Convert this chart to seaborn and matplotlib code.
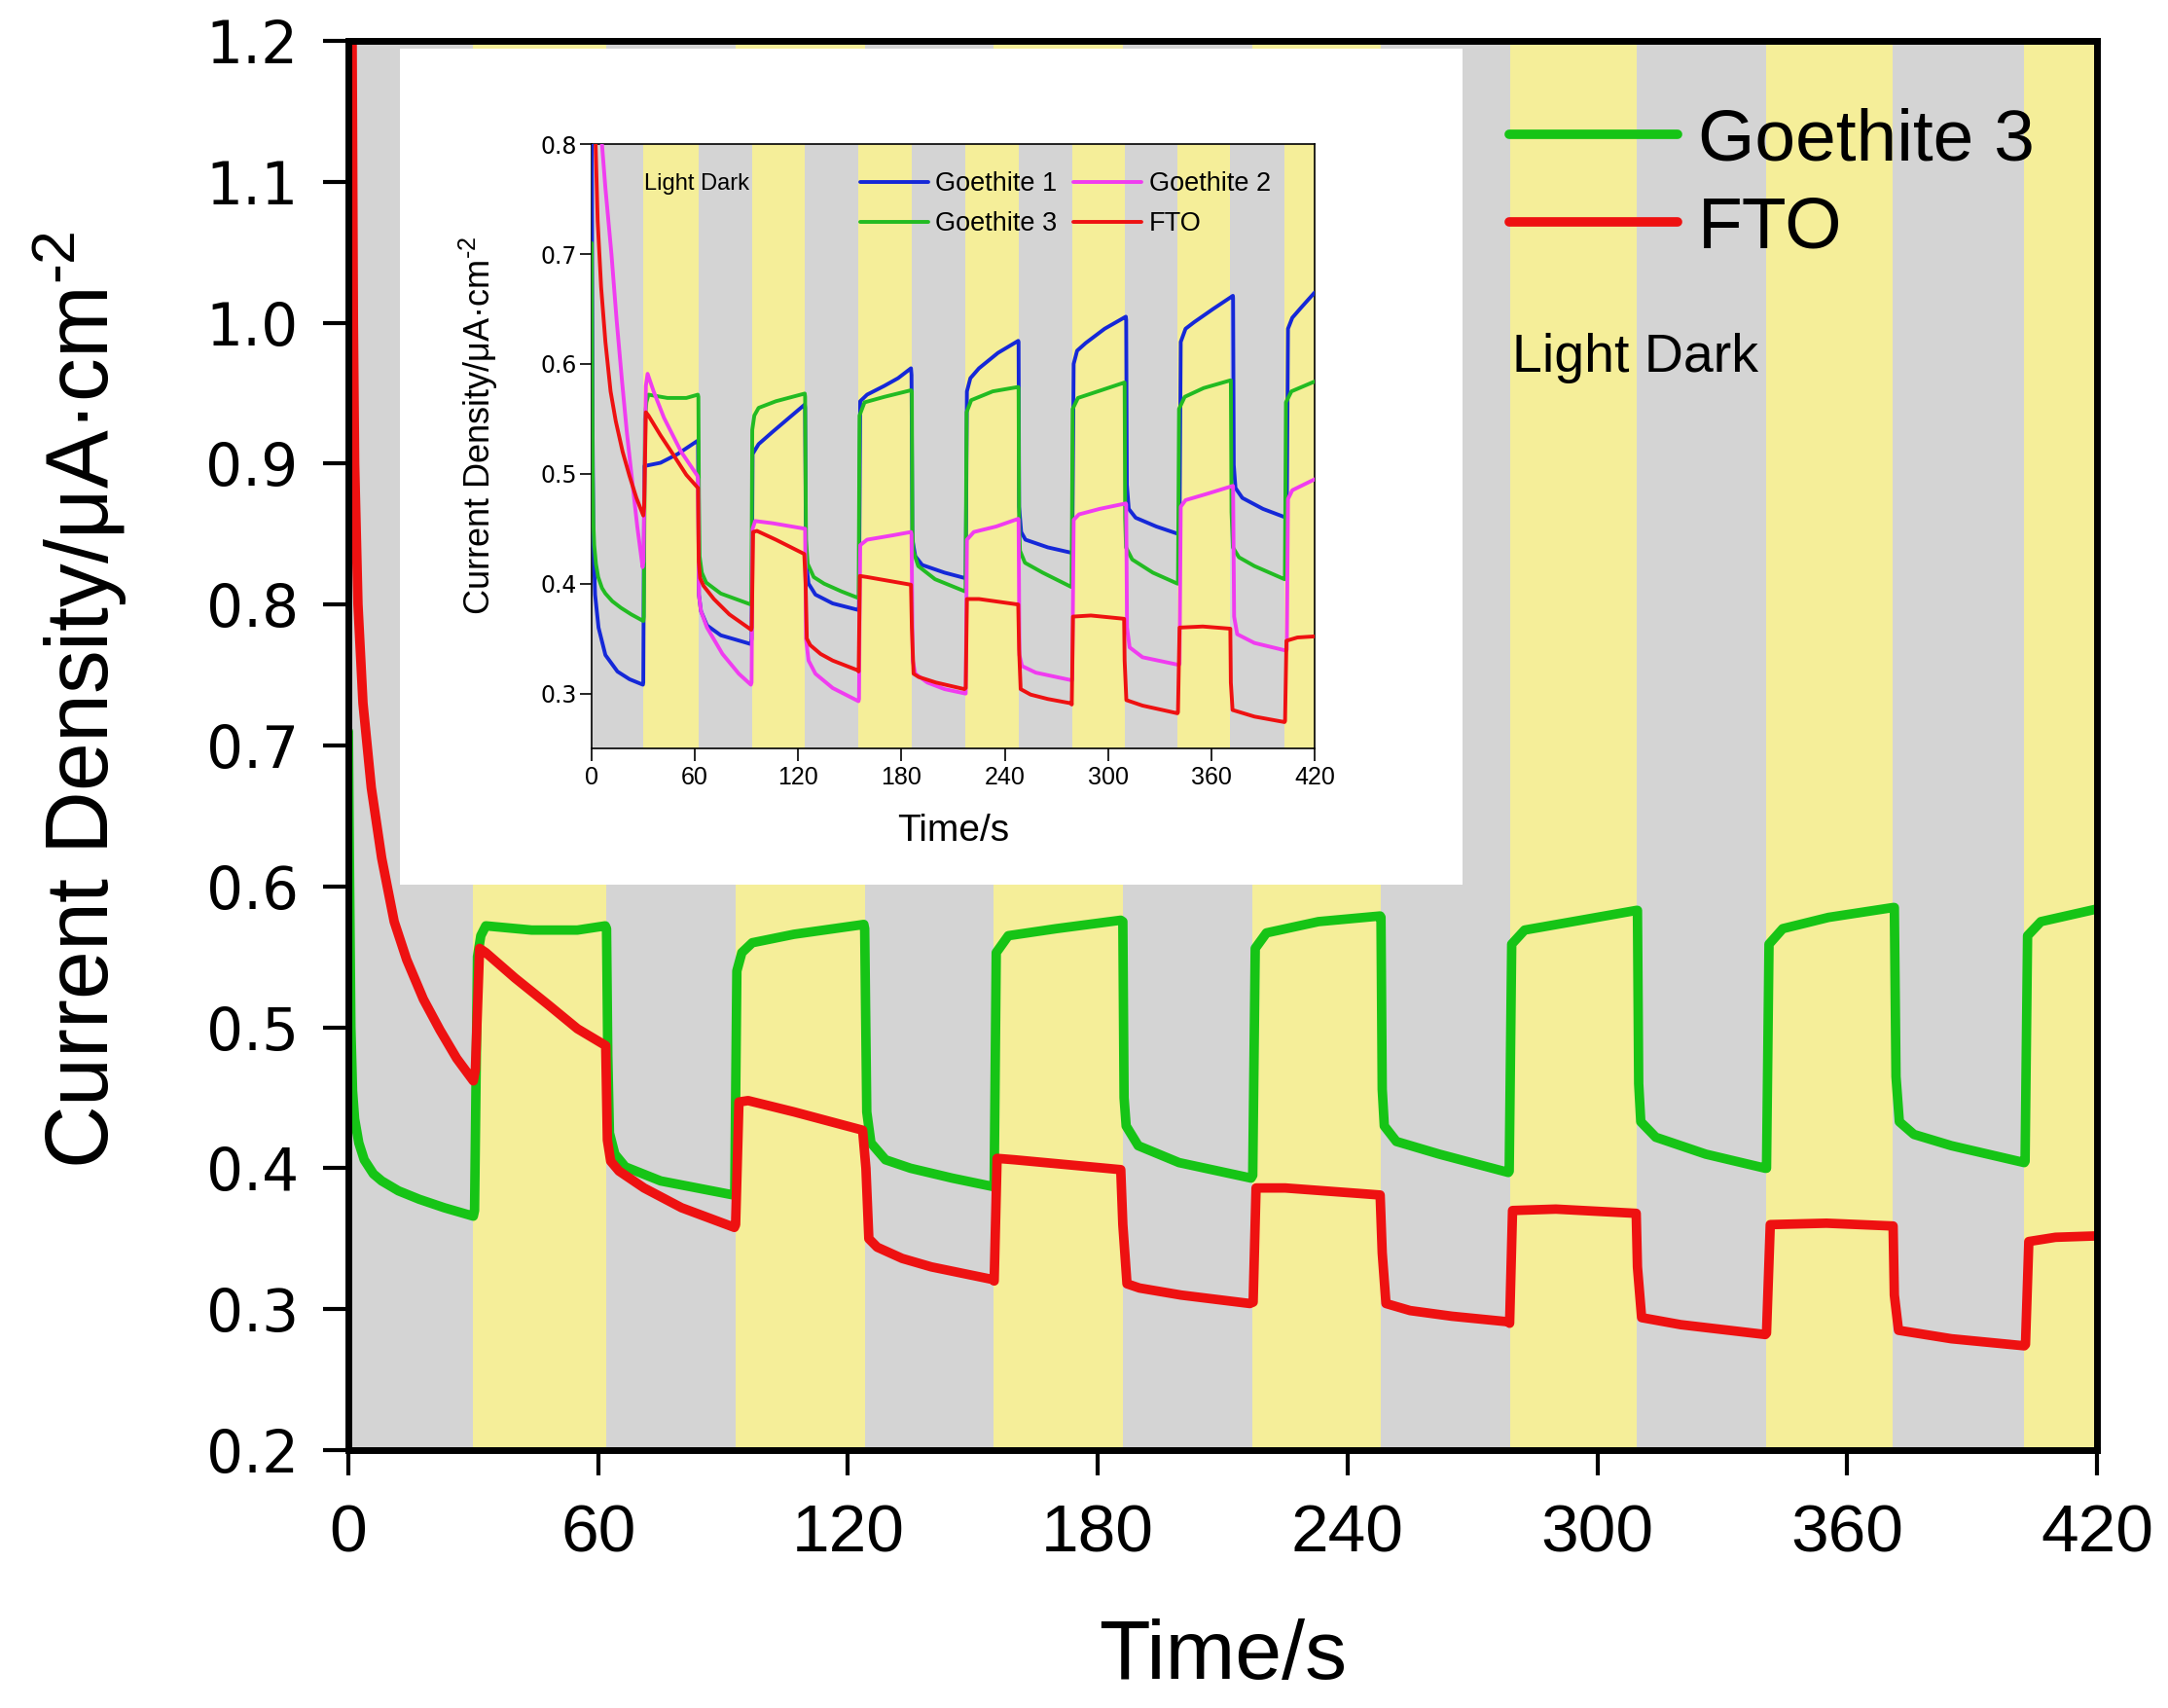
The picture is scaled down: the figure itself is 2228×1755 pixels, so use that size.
import matplotlib.pyplot as plt
import seaborn as sns
from matplotlib.patches import Rectangle

# ── Style ───────────────────────────────────────────────────
sns.set_theme(style="ticks")
plt.rcParams["font.family"] = ["Liberation Sans", "DejaVu Sans"]
plt.rcParams["mathtext.fontset"] = "custom"
plt.rcParams["mathtext.rm"] = "Liberation Sans"
plt.rcParams["mathtext.it"] = "Liberation Sans:italic"
plt.rcParams["mathtext.bf"] = "Liberation Sans:bold"
plt.rcParams["text.color"] = "black"
plt.rcParams["axes.labelcolor"] = "black"

GREY = "#D4D4D4"
YELLOW = "#F5EE99"
GREEN = "#16C416"
RED = "#EE1111"
BLUE = "#1528D8"
MAGENTA = "#F03CF0"
GREEN_IN = "#22BB22"

# ── Data ────────────────────────────────────────────────────
band_edges = [0, 30, 62, 93, 124, 155, 186, 217, 248, 279, 309.5, 340.5, 371, 402.5, 420]
band_state = ["dark", "light"] * 7

x_ticks = [0, 60, 120, 180, 240, 300, 360, 420]
y_ticks = [0.2, 0.3, 0.4, 0.5, 0.6, 0.7, 0.8, 0.9, 1.0, 1.1, 1.2]
inset_y_ticks = [0.3, 0.4, 0.5, 0.6, 0.7, 0.8]

# Goethite 3
g3_t = [0, 0.3, 0.6, 1.0, 1.5, 2.5, 3.8, 6, 8, 12, 17, 23, 30,
        30.3, 31, 31.8, 33, 44, 55, 61.7,
        62, 62.3, 62.7, 64, 66.5, 75, 92.5,
        92.8, 93.3, 94.5, 97, 107, 123.8,
        124, 124.5, 125.5, 129, 135, 145, 154.8,
        155.1, 155.6, 158.5, 170, 185.5,
        186, 186.3, 186.8, 189.7, 199.5, 216.8,
        217.2, 217.8, 220.5, 233, 247.8,
        248.0, 248.3, 248.8, 251.7, 262, 278.6,
        278.8, 279.4, 282.5, 296, 309.4,
        309.6, 309.9, 310.4, 314, 326, 340.3,
        340.6, 341.2, 344.5, 355.5, 371.0,
        371.3, 371.7, 372.5, 376, 385, 402.5,
        402.7, 403.3, 406.5, 420]
g3_v = [0.71, 0.60, 0.50, 0.455, 0.435, 0.418, 0.406, 0.396, 0.391, 0.384, 0.378, 0.372, 0.366,
        0.37, 0.55, 0.565, 0.572, 0.569, 0.569, 0.572,
        0.57, 0.48, 0.425, 0.41, 0.401, 0.391, 0.381,
        0.385, 0.54, 0.553, 0.560, 0.566, 0.573,
        0.57, 0.44, 0.418, 0.406, 0.40, 0.393, 0.387,
        0.39, 0.553, 0.565, 0.570, 0.576,
        0.575, 0.45, 0.43, 0.416, 0.404, 0.393,
        0.395, 0.556, 0.567, 0.575, 0.579,
        0.578, 0.456, 0.43, 0.419, 0.41, 0.397,
        0.398, 0.559, 0.569, 0.576, 0.583,
        0.583, 0.46, 0.433, 0.422, 0.41, 0.40,
        0.40, 0.559, 0.57, 0.578, 0.585,
        0.585, 0.465, 0.433, 0.424, 0.416, 0.404,
        0.405, 0.565, 0.575, 0.584]

# FTO
fto_t = [0.3, 0.9, 1.2, 1.5, 2.3, 3.5, 5.5, 8, 11, 14, 18, 22, 26, 30,
         30.5, 31.5, 33, 40, 48, 55, 61.8,
         62.2, 63, 65, 71, 80, 92.7,
         93.0, 93.8, 96, 107, 123.5,
         124.3, 125, 127, 133, 140, 154.8,
         155.1, 155.8, 160, 185.5,
         186, 187, 190, 200, 216.5,
         217.3, 218, 225, 247.8,
         248.3, 249.2, 255, 265, 278.7,
         278.9, 279.6, 290, 309.3,
         309.6, 310.6, 320, 340.3,
         340.6, 341.5, 355, 371,
         371.3, 372.3, 385, 402.5,
         402.8, 403.6, 410, 420]
fto_v = [1.35, 1.2, 1.0, 0.9, 0.8, 0.73, 0.67, 0.62, 0.575, 0.548, 0.52, 0.498, 0.478, 0.462,
         0.47, 0.556, 0.553, 0.535, 0.516, 0.499, 0.487,
         0.42, 0.405, 0.398, 0.386, 0.372, 0.358,
         0.36, 0.447, 0.448, 0.44, 0.427,
         0.40, 0.35, 0.344, 0.336, 0.330, 0.321,
         0.32, 0.407, 0.406, 0.399,
         0.36, 0.318, 0.315, 0.31, 0.304,
         0.305, 0.386, 0.386, 0.381,
         0.34, 0.304, 0.299, 0.295, 0.291,
         0.29, 0.370, 0.371, 0.368,
         0.33, 0.294, 0.289, 0.282,
         0.283, 0.360, 0.361, 0.359,
         0.31, 0.285, 0.279, 0.274,
         0.275, 0.348, 0.351, 0.352]

# Goethite 1 (inset only)
g1_t = [0, 0.5, 1, 2, 4, 8, 15, 22, 29.8,
        30, 30.6, 40, 50, 61.5,
        61.8, 62.3, 63.5, 67, 75, 92.5,
        92.9, 93.5, 97, 105, 114, 123.8,
        124, 124.5, 126, 130, 140, 155,
        155.3, 156, 160, 170, 178, 185.5,
        185.8, 186.3, 188, 192, 205, 217,
        217.3, 218, 220, 225, 236, 247.8,
        248.0, 248.3, 249.5, 252, 265, 279,
        279.2, 280, 282, 287, 298, 310.3,
        310.5, 310.9, 312, 316, 328, 341.2,
        341.5, 342.2, 345, 350, 361, 372.5,
        372.6, 373, 374, 378, 390, 403.5,
        403.8, 404.5, 407, 412, 420]
g1_v = [0.85, 0.55, 0.44, 0.39, 0.36, 0.335, 0.32, 0.313, 0.308,
        0.31, 0.507, 0.51, 0.518, 0.53,
        0.53, 0.39, 0.375, 0.362, 0.353, 0.345,
        0.35, 0.518, 0.527, 0.538, 0.55, 0.563,
        0.56, 0.42, 0.40, 0.39, 0.382, 0.376,
        0.38, 0.566, 0.572, 0.58, 0.587, 0.596,
        0.59, 0.44, 0.425, 0.417, 0.41, 0.405,
        0.405, 0.575, 0.587, 0.596, 0.61, 0.621,
        0.62, 0.47, 0.447, 0.44, 0.433, 0.428,
        0.43, 0.60, 0.612, 0.619, 0.632, 0.643,
        0.64, 0.49, 0.468, 0.46, 0.452, 0.445,
        0.447, 0.62, 0.632, 0.638, 0.65, 0.662,
        0.66, 0.508, 0.487, 0.478, 0.468, 0.46,
        0.462, 0.632, 0.642, 0.651, 0.665]

# Goethite 2 (inset only)
g2_t = [0, 4, 6, 8, 11.5, 14.5, 17.6, 20.5, 23.8, 26.5, 29.6,
        30.1, 31.5, 32.5, 36, 42, 52, 61.5,
        61.8, 62.3, 63.5, 67, 76, 85.5, 92.5,
        92.9, 93.5, 95, 105, 123.8,
        124, 124.5, 126, 130, 140, 155,
        155.3, 156, 160, 175, 185.5,
        185.8, 186.5, 188, 195, 205, 217,
        217.3, 218, 222, 235, 247.8,
        248.0, 248.5, 250, 258, 279,
        279.2, 280, 283, 295, 310.3,
        310.5, 311, 312.5, 320, 341.2,
        341.5, 342.2, 345, 358, 372.5,
        372.6, 373.2, 375, 385, 403.5,
        403.8, 404.5, 407, 420]
g2_v = [0.95, 0.87, 0.80, 0.76, 0.70, 0.64, 0.585, 0.537, 0.49, 0.452, 0.415,
        0.42, 0.58, 0.591, 0.575, 0.551, 0.52, 0.498,
        0.495, 0.39, 0.375, 0.36, 0.336, 0.318, 0.308,
        0.31, 0.45, 0.457, 0.455, 0.45,
        0.45, 0.35, 0.33, 0.318, 0.305, 0.293,
        0.295, 0.435, 0.44, 0.444, 0.447,
        0.445, 0.33, 0.318, 0.31, 0.304, 0.300,
        0.30, 0.44, 0.447, 0.452, 0.459,
        0.458, 0.335, 0.325, 0.319, 0.312,
        0.313, 0.458, 0.463, 0.468, 0.473,
        0.472, 0.36, 0.342, 0.333, 0.326,
        0.327, 0.47, 0.476, 0.482, 0.489,
        0.488, 0.37, 0.354, 0.346, 0.339,
        0.34, 0.477, 0.485, 0.495]

YLABEL = "Current Density/μA·cm$^{\\text{-2}}$"


def shade(a):
    for i, state in enumerate(band_state):
        a.axvspan(band_edges[i], band_edges[i + 1],
                  color=GREY if state == "dark" else YELLOW, lw=0, zorder=0)


def curve(a, t, v, color, lw, label):
    sns.lineplot(x=t, y=v, ax=a, color=color, lw=lw, estimator=None,
                 sort=False, label=label, zorder=4, solid_joinstyle="round")


# ── Main axes ───────────────────────────────────────────────
fig = plt.figure(figsize=(22.28, 17.55), dpi=100)
ax = fig.add_axes([0.1607, 0.151, 0.8066, 0.8251])
ax.set_facecolor("white")
shade(ax)
ax.add_patch(Rectangle((0.0295, 0.401), 0.6075, 0.5935, transform=ax.transAxes,
                       facecolor="white", edgecolor="none", zorder=3))

curve(ax, g3_t, g3_v, GREEN, 7, "Goethite 3")
curve(ax, fto_t, fto_v, RED, 7, "FTO")

ax.set_xlim(0, 420)
ax.set_ylim(0.2, 1.2)
ax.set_xticks(x_ticks)
ax.set_yticks(y_ticks)
ax.set_yticklabels([f"{v:.1f}" for v in y_ticks])
ax.tick_params(direction="out", length=19, width=3, pad=18, colors="black")
ax.tick_params(axis="x", labelsize=50, pad=20)
ax.tick_params(axis="y", labelsize=43)
for lab in ax.get_yticklabels():
    lab.set_fontfamily("DejaVu Sans")
for s in ax.spines.values():
    s.set_linewidth(5)
    s.set_color("black")
    s.set_zorder(6)

ax.set_xlabel("Time/s", fontsize=62)
ax.set_ylabel(YLABEL, fontsize=64.5)
ax.xaxis.set_label_coords(0.5, -0.1195)
ax.yaxis.set_label_coords(-0.125, 0.532)

ax.legend(loc="upper left", bbox_to_anchor=(0.664, 0.953), frameon=False,
          fontsize=54, handlelength=2.3, handletextpad=0.28, labelspacing=0.28,
          borderpad=0, borderaxespad=0, labelcolor="black")
ax.text(279.5, 0.975, "Light Dark", fontsize=40, ha="left", va="center", zorder=5)

# ── Inset ───────────────────────────────────────────────────
ax2 = fig.add_axes([0.2729, 0.5618, 0.3335, 0.3538])
ax2.set_zorder(10)
shade(ax2)
curve(ax2, g1_t, g1_v, BLUE, 2.8, "Goethite 1")
curve(ax2, g3_t, g3_v, GREEN_IN, 2.8, "Goethite 3")
curve(ax2, g2_t, g2_v, MAGENTA, 2.8, "Goethite 2")
curve(ax2, fto_t, fto_v, RED, 2.8, "FTO")

ax2.set_xlim(0, 420)
ax2.set_ylim(0.25, 0.8)
ax2.set_xticks(x_ticks)
ax2.set_yticks(inset_y_ticks)
ax2.set_yticklabels([f"{v:.1f}" for v in inset_y_ticks])
ax2.tick_params(direction="out", length=9, width=1.2, colors="black")
ax2.tick_params(axis="x", labelsize=18, pad=4)
ax2.tick_params(axis="y", labelsize=17, pad=2)
for lab in ax2.get_yticklabels():
    lab.set_fontfamily("DejaVu Sans")
for s in ax2.spines.values():
    s.set_linewidth(1.2)
    s.set_color("black")

ax2.set_xlabel("Time/s", fontsize=28)
ax2.set_ylabel(YLABEL, fontsize=26)
ax2.xaxis.set_label_coords(0.5, -0.108)
ax2.yaxis.set_label_coords(-0.1265, 0.535)

ax2.legend(ncol=2, loc="upper left", bbox_to_anchor=(0.371, 0.955), frameon=False,
           fontsize=19.5, handlelength=2.6, handletextpad=0.27, columnspacing=0.6,
           labelspacing=0.56, borderpad=0, borderaxespad=0, labelcolor="black")
ax2.text(30.6, 0.764, "Light Dark", fontsize=17, ha="left", va="center", zorder=5)

plt.savefig("out.png", dpi=100)
plt.close()
